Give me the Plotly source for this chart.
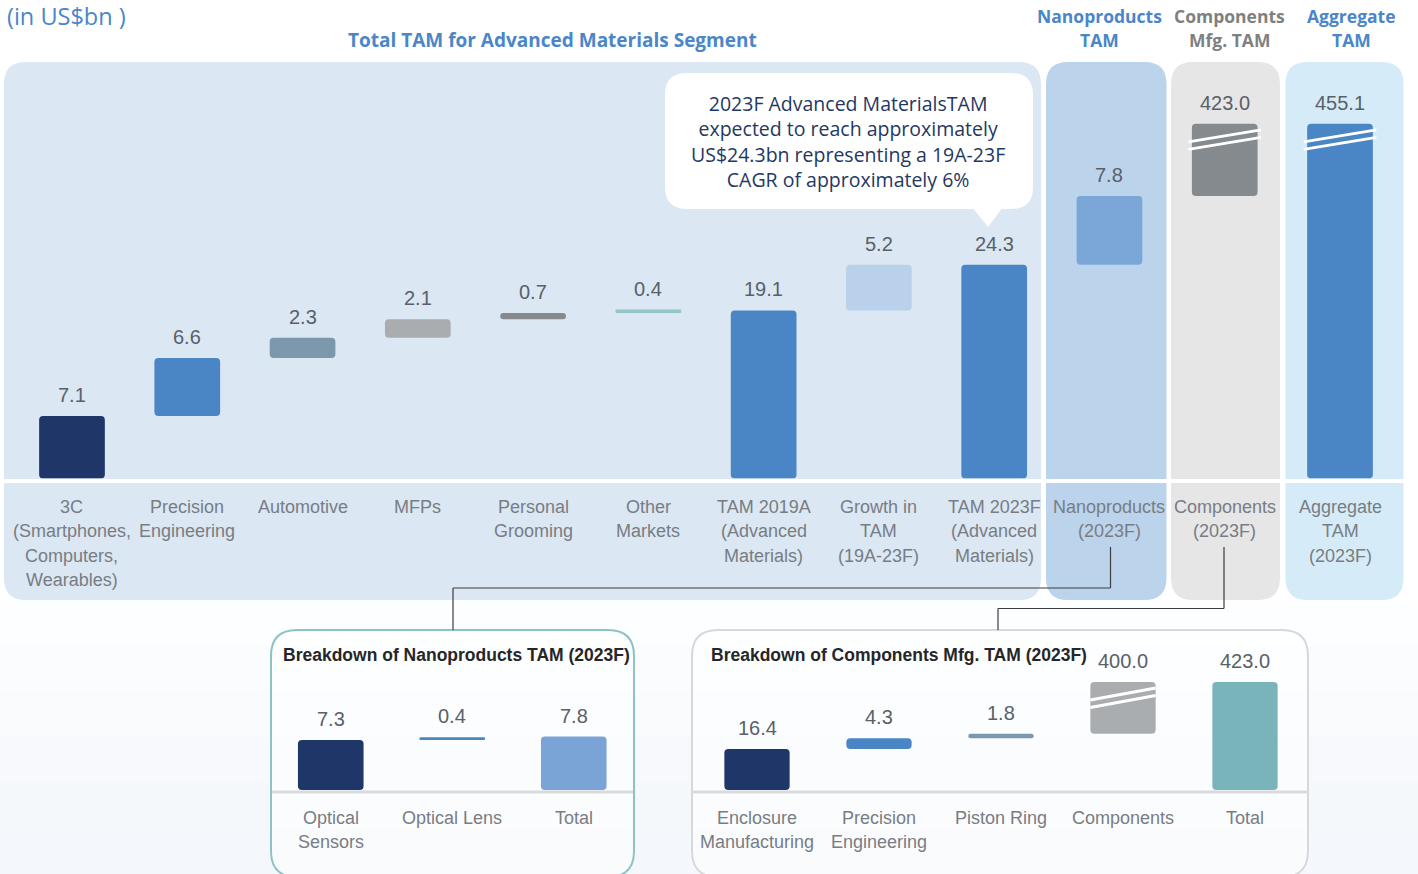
import plotly.graph_objects as go

W, H = 1418, 874

# ---------------- DATA ----------------
main_categories = ["3C<br>(Smartphones,<br>Computers,<br>Wearables)", "Precision<br>Engineering", "Automotive",
                   "MFPs", "Personal<br>Grooming", "Other<br>Markets", "TAM 2019A<br>(Advanced<br>Materials)",
                   "Growth in<br>TAM<br>(19A-23F)", "TAM 2023F<br>(Advanced<br>Materials)",
                   "Nanoproducts<br>(2023F)", "Components<br>(2023F)", "Aggregate<br>TAM<br>(2023F)"]
main_values = [7.1, 6.6, 2.3, 2.1, 0.7, 0.4, 19.1, 5.2, 24.3, 7.8, 423.0, 455.1]
main_kinds = ["step", "step", "step", "step", "step", "step", "total", "step", "total", "step", "step", "total"]
main_colors = ["#1f3669", "#4a86c5", "#7b98ad", "#a9adb0", "#868a8e", "#93c6c9", "#4a86c5", "#bad1eb",
               "#4a86c5", "#7ba6d8", "#858a8e", "#4a86c5"]
main_break_marks = [False] * 10 + [True, True]

nano_categories = ["Optical<br>Sensors", "Optical Lens", "Total"]
nano_values = [7.3, 0.4, 7.8]
nano_kinds = ["step", "step", "total"]
nano_colors = ["#1f3669", "#4a86c5", "#7ba4d6"]
nano_break_marks = [False, False, False]

comp_categories = ["Enclosure<br>Manufacturing", "Precision<br>Engineering", "Piston Ring", "Components", "Total"]
comp_values = [16.4, 4.3, 1.8, 400.0, 423.0]
comp_kinds = ["step", "step", "step", "step", "total"]
comp_colors = ["#1f3669", "#4a86c5", "#7b98ad", "#a9adb0", "#78b4b9"]
comp_break_marks = [False, False, False, True, False]

# ---------------- LAYOUT HELPERS ----------------
def px(x):
    return x / W


def py(y):
    return 1 - y / H


def rrect(x0, y0, x1, y1, r):
    pts = [("M", [(x0 + r, y0)]), ("L", [(x1 - r, y0)]), ("Q", [(x1, y0), (x1, y0 + r)]),
           ("L", [(x1, y1 - r)]), ("Q", [(x1, y1), (x1 - r, y1)]), ("L", [(x0 + r, y1)]),
           ("Q", [(x0, y1), (x0, y1 - r)]), ("L", [(x0, y0 + r)]), ("Q", [(x0, y0), (x0 + r, y0)])]
    s = ""
    for cmd, ps in pts:
        s += cmd + " " + " ".join(f"{px(a):.5f},{py(b):.5f}" for a, b in ps) + " "
    return s + "Z"


def waterfall(values, kinds, cap):
    bases, tops = [], []
    running = 0.0
    for v, k in zip(values, kinds):
        if k == "total":
            b, t = 0.0, v
            running = v
        else:
            b, t = running, running + v
            running = t
        bases.append(b)
        tops.append(t)
    disp = [min(t, cap) for t in tops]
    return bases, disp


LABEL_FONT = "Liberation Sans, Arial, sans-serif"
HEAD_FONT = "Open Sans, Noto Sans, sans-serif"
VAL_COLOR = "#5a6068"
CAT_COLOR = "#787d84"
CAT_LINE = 24.3

# panel geometry
panels = [
    dict(ax="", xl=14.35, xr=1397.65, base=478.5, top=62, scale=8.8, cap=40.3, bw=0.57,
         cats=main_categories, vals=main_values, kinds=main_kinds, colors=main_colors,
         marks=main_break_marks, cat_first=507, ext=0.03),
    dict(ax="2", xl=270, xr=634.5, base=790, top=670, scale=6.85, cap=100, bw=0.54,
         cats=nano_categories, vals=nano_values, kinds=nano_kinds, colors=nano_colors,
         marks=nano_break_marks, cat_first=818, ext=0),
    dict(ax="3", xl=696, xr=1306, base=790, top=670, scale=2.5, cap=43.2, bw=0.535,
         cats=comp_categories, vals=comp_values, kinds=comp_kinds, colors=comp_colors,
         marks=comp_break_marks, cat_first=818, ext=0),
]

fig = go.Figure()
annotations = []
shapes = []

# ---------------- BACKGROUND SHAPES ----------------
grad = ["#fdfeff", "#fbfcfe", "#f9fbfd", "#f7f9fc", "#f5f8fb", "#f4f7fb"]
for k, c in enumerate(grad):
    y0 = 600 + k * (274 / len(grad))
    shapes.append(dict(type="rect", xref="paper", yref="paper", x0=0, x1=1, y0=py(874), y1=py(y0),
                       fillcolor=c, line_width=0, layer="below"))
shapes.append(dict(type="path", xref="paper", yref="paper", path=rrect(4, 62, 1041, 600, 22),
                   fillcolor="#dbe7f3", line_width=0, layer="below"))
shapes.append(dict(type="path", xref="paper", yref="paper", path=rrect(1046, 62, 1166.5, 600, 22),
                   fillcolor="#bcd3ec", line_width=0, layer="below"))
shapes.append(dict(type="path", xref="paper", yref="paper", path=rrect(1171, 62, 1280, 600, 22),
                   fillcolor="#e6e6e6", line_width=0, layer="below"))
shapes.append(dict(type="path", xref="paper", yref="paper", path=rrect(1285.5, 62, 1403.5, 600, 22),
                   fillcolor="#d5ecf8", line_width=0, layer="below"))
shapes.append(dict(type="rect", xref="paper", yref="paper", x0=0, x1=1, y0=py(483), y1=py(479),
                   fillcolor="white", line_width=0, layer="below"))
# callout
shapes.append(dict(type="path", xref="paper", yref="paper", path=rrect(665, 73, 1033, 209, 22),
                   fillcolor="white", line_width=0, layer="below"))
shapes.append(dict(type="path", xref="paper", yref="paper",
                   path=f"M {px(972):.5f},{py(207):.5f} L {px(1003):.5f},{py(207):.5f} L {px(988):.5f},{py(227):.5f} Z",
                   fillcolor="white", line_width=0, layer="below"))
# breakdown boxes
shapes.append(dict(type="path", xref="paper", yref="paper", path=rrect(271, 630, 634, 877, 26),
                   fillcolor="rgba(255,255,255,0.55)", line=dict(color="#8ec2c5", width=2), layer="below"))
shapes.append(dict(type="path", xref="paper", yref="paper", path=rrect(692, 630, 1308, 877, 26),
                   fillcolor="rgba(255,255,255,0.55)", line=dict(color="#d6d8db", width=2), layer="below"))
for x0, x1 in [(272, 633), (693, 1307)]:
    shapes.append(dict(type="rect", xref="paper", yref="paper", x0=px(x0), x1=px(x1), y0=py(793.5), y1=py(790.5),
                       fillcolor="#d8dade", line_width=0, layer="below"))
# connectors
conn = dict(color="#3c3c3c", width=1.2)
for (xa, ya, xb, yb) in [(1110.5, 547, 1110.5, 588), (1110.5, 588, 453, 588), (453, 588, 453, 630),
                         (1224, 547, 1224, 608.5), (1224, 608.5, 998, 608.5), (998, 608.5, 998, 630)]:
    shapes.append(dict(type="line", xref="paper", yref="paper", x0=px(xa), y0=py(ya), x1=px(xb), y1=py(yb),
                       line=conn, layer="above"))

# ---------------- PANELS ----------------
layout_axes = {}
for p in panels:
    n = len(p["vals"])
    bases, disp = waterfall(p["vals"], p["kinds"], p["cap"])
    xs = list(range(n))
    xa = "x" + p["ax"]
    ya = "y" + p["ax"]
    fig.add_trace(go.Bar(
        x=xs, y=[d - b for d, b in zip(disp, bases)], base=bases, width=p["bw"],
        marker=dict(color=p["colors"], line_width=0, cornerradius=4),
        xaxis=xa, yaxis=ya, hoverinfo="skip", showlegend=False))
    yrange = (p["base"] - p["top"]) / p["scale"]
    layout_axes["xaxis" + p["ax"]] = dict(domain=[px(p["xl"]), px(p["xr"])], range=[-0.5, n - 0.5],
                                         visible=False, fixedrange=True, anchor=ya)
    layout_axes["yaxis" + p["ax"]] = dict(domain=[py(p["base"]), py(p["top"])], range=[0, yrange],
                                         visible=False, fixedrange=True, anchor=xa)
    for i in range(n):
        annotations.append(dict(x=i, y=disp[i], xref=xa, yref=ya, text=f"{p['vals'][i]:.1f}",
                                showarrow=False, xanchor="center", yanchor="middle", yshift=21,
                                font=dict(family=LABEL_FONT, size=20, color=VAL_COLOR)))
        for li, line in enumerate(p["cats"][i].split("<br>")):
            annotations.append(dict(x=i, y=py(p["cat_first"] + li * CAT_LINE), xref=xa, yref="paper", text=line,
                                    showarrow=False, xanchor="center", yanchor="middle",
                                    font=dict(family=LABEL_FONT, size=18, color=CAT_COLOR)))
        if p["marks"][i]:
            half = p["bw"] / 2 + p["ext"]
            for off in (0, 7.5):
                shapes.append(dict(type="line", xref=xa, yref=ya,
                                   x0=i - half, y0=disp[i] - (18 + off) / p["scale"],
                                   x1=i + half, y1=disp[i] - (6 + off) / p["scale"],
                                   line=dict(color="white", width=3), layer="above"))

# ---------------- TEXT ----------------
def head(x, y, text, size, color, xanchor="center", align="center"):
    return dict(x=px(x), y=py(y), xref="paper", yref="paper", text=text, showarrow=False,
                xanchor=xanchor, yanchor="middle", align=align,
                font=dict(family=HEAD_FONT, size=size, color=color))


annotations += [
    head(5, 16, "(in US$bn )", 23.5, "#4a86c8", xanchor="left"),
    head(552, 40, "<b>Total TAM for Advanced Materials Segment</b>", 19, "#4a86c8"),
    head(1099, 16, "<b>Nanoproducts</b>", 17.5, "#4a86c8"),
    head(1099, 40, "<b>TAM</b>", 17.5, "#4a86c8"),
    head(1229, 16, "<b>Components</b>", 17.5, "#808080"),
    head(1229, 40, "<b>Mfg. TAM</b>", 17.5, "#808080"),
    head(1351, 16, "<b>Aggregate</b>", 17.5, "#4a86c8"),
    head(1351, 40, "<b>TAM</b>", 17.5, "#4a86c8"),
    head(848, 141.5, "2023F Advanced MaterialsTAM<br>expected to reach approximately<br>"
                     "US$24.3bn representing a 19A-23F<br>CAGR of approximately 6%", 19.5, "#1f3864"),
    dict(x=px(281), y=py(655), xref="paper", yref="paper", text="<b>Breakdown of Nanoproducts TAM (2023F)</b>",
         showarrow=False, xanchor="left", yanchor="middle", font=dict(family=LABEL_FONT, size=17.5, color="#262626")),
    dict(x=px(709), y=py(655), xref="paper", yref="paper", text="<b>Breakdown of Components Mfg. TAM (2023F)</b>",
         showarrow=False, xanchor="left", yanchor="middle", font=dict(family=LABEL_FONT, size=17.5, color="#262626")),
]

fig.update_layout(
    width=W, height=H, autosize=False,
    margin=dict(l=0, r=0, t=0, b=0, pad=0),
    paper_bgcolor="white", plot_bgcolor="rgba(0,0,0,0)",
    showlegend=False, barmode="overlay",
    shapes=shapes, annotations=annotations,
    **layout_axes,
)

fig.write_html("out.html", config={"displayModeBar": False, "staticPlot": True},
               post_script="document.body.style.margin='0';")
